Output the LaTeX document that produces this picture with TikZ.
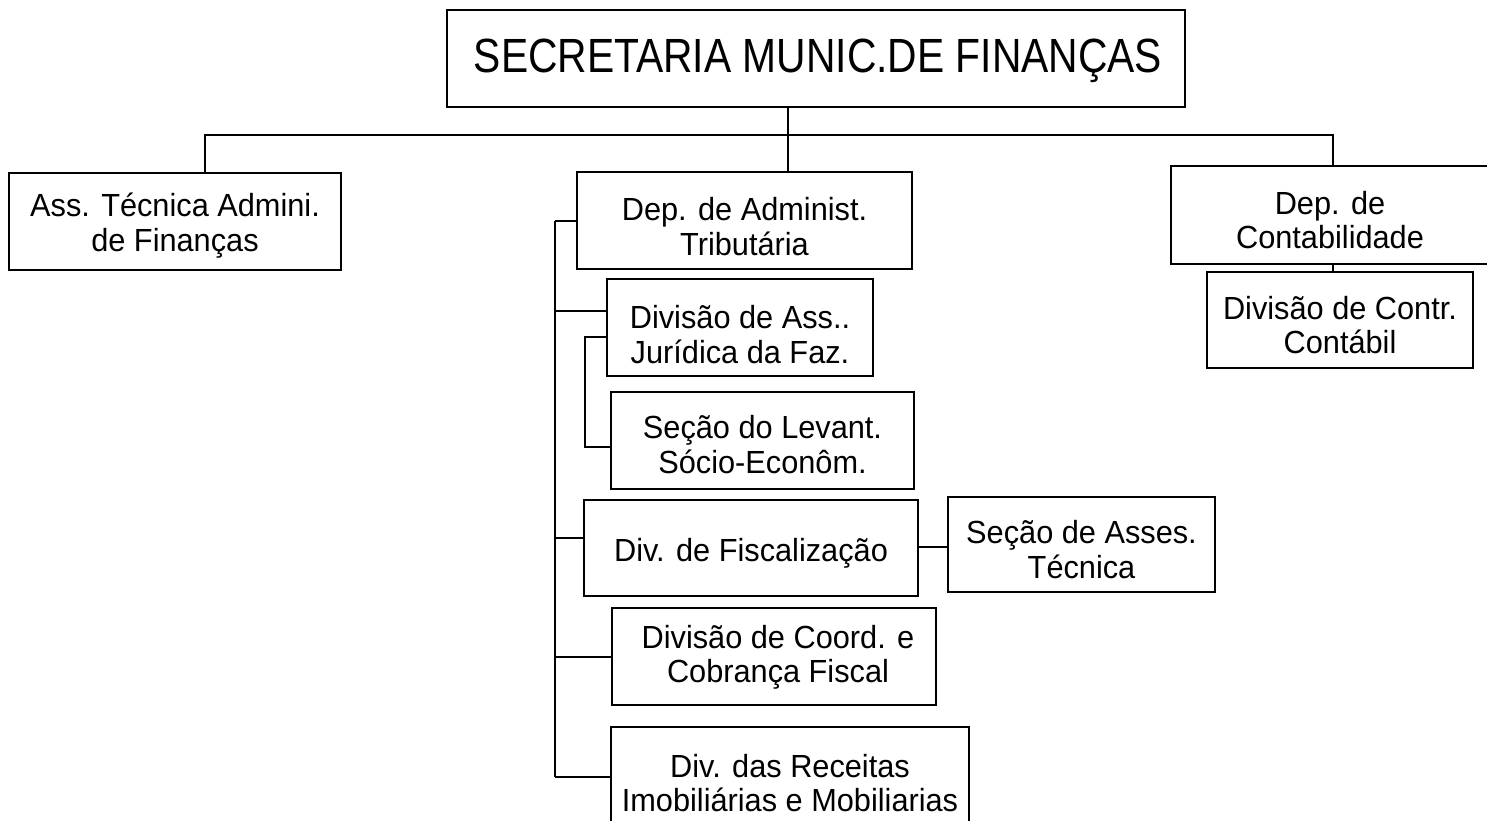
\documentclass[tikz,border=0pt]{standalone}
\usepackage{fontspec}
\setmainfont{Liberation Sans}[FakeStretch=0.96]
\newfontfamily\topfont{Liberation Sans}[FakeStretch=0.85]
\begin{document}
\begin{tikzpicture}[x=1pt,y=-1pt,
  line width=1.7pt,
  orgbox/.style={draw=black, line width=1.7pt, inner sep=0pt},
  txt/.style={inner sep=0pt, align=center,
    font={\fontsize{32}{34.5}\selectfont\lineskiplimit -100pt\relax}},
  conn/.style={draw=black, line width=1.7pt}]
\useasboundingbox (0,0) rectangle (1487,821);
\begin{scope}
\clip (0,0) rectangle (1487,821);
% boxes
\node[orgbox, minimum width=738pt, minimum height=97pt] (top) at (816,58.5) {};
\node[orgbox, minimum width=332pt, minimum height=97pt] (ass) at (175,221.5) {};
\node[orgbox, minimum width=335pt, minimum height=97pt] (dat) at (744.5,220.5) {};
\node[orgbox, minimum width=322pt, minimum height=98pt] (dcont) at (1332,215) {};
\node[orgbox, minimum width=266pt, minimum height=96pt] (dcc) at (1340,320) {};
\node[orgbox, minimum width=266pt, minimum height=97pt] (djur) at (740,327.5) {};
\node[orgbox, minimum width=303pt, minimum height=97pt] (slev) at (762.5,440.5) {};
\node[orgbox, minimum width=334pt, minimum height=96pt] (dfis) at (751,548) {};
\node[orgbox, minimum width=267pt, minimum height=95pt] (sat) at (1081.5,544.5) {};
\node[orgbox, minimum width=324pt, minimum height=97pt] (dcob) at (774,656.5) {};
\node[orgbox, minimum width=358pt, minimum height=108pt] (drec) at (790,781) {};
% texts
\node[inner sep=0pt, font=\topfont\fontsize{48}{50}\selectfont] (topT) at ([xshift=2pt,yshift=-2pt]top.center) {SECRETARIA MUNIC.DE FINANÇAS};
\node[txt] (assT) at ([yshift=-4pt]ass.center) {Ass. Técnica Admini.\\de Finanças};
\node[txt] (datT) at ([yshift=-6pt]dat.center) {Dep. de Administ.\\Tributária};
\node[txt] (dcontT) at ([xshift=-2pt,yshift=-5pt]dcont.center) {Dep. de\\Contabilidade};
\node[txt] (dccT) at ([yshift=-5pt]dcc.center) {Divisão de Contr.\\Contábil};
\node[txt] (djurT) at ([yshift=-7pt]djur.center) {Divisão de Ass..\\Jurídica da Faz.};
\node[txt] (slevT) at ([yshift=-4pt]slev.center) {Seção do Levant.\\Sócio-Econôm.};
\node[txt] (dfisT) at ([yshift=-5pt]dfis.center) {Div. de Fiscalização};
\node[txt] (satT) at ([yshift=-5pt]sat.center) {Seção de Asses.\\Técnica};
\node[txt] (dcobT) at ([xshift=4pt,yshift=-1pt]dcob.center) {Divisão de Coord. e\\Cobrança Fiscal};
\node[txt] (drecT) at ([yshift=-2pt]drec.center) {Div. das Receitas\\Imobiliárias e Mobiliarias};
% junction coordinates
\coordinate (j0) at (788,135);
\coordinate (jl) at (205,135);
\coordinate (jr) at (1333,135);
\coordinate (b1) at (555,221);
\coordinate (b2) at (555,311);
\coordinate (b3) at (555,538);
\coordinate (b4) at (555,657);
\coordinate (b5) at (555,777);
\coordinate (c1) at (585,337);
\coordinate (c2) at (585,447);
\coordinate (e1) at (933,547);
% connectors
\draw[conn] (top.south -| j0) -- (dat.north -| j0);
\draw[conn] (ass.north -| jl) -- (jl) -- (jr) -- (dcont.north -| jr);
\draw[conn] (dcont.south -| jr) -- (dcc.north -| jr);
\draw[conn] (b1) -- (b5);
\draw[conn] (b1) -- (b1 -| dat.west);
\draw[conn] (b2) -- (b2 -| djur.west);
\draw[conn] (b3) -- (b3 -| dfis.west);
\draw[conn] (b4) -- (b4 -| dcob.west);
\draw[conn] (b5) -- (b5 -| drec.west);
\draw[conn] (c1 -| djur.west) -- (c1) -- (c2) -- (c2 -| slev.west);
\draw[conn] (e1 -| dfis.east) -- (e1 -| sat.west);
\end{scope}
\end{tikzpicture}
\end{document}
